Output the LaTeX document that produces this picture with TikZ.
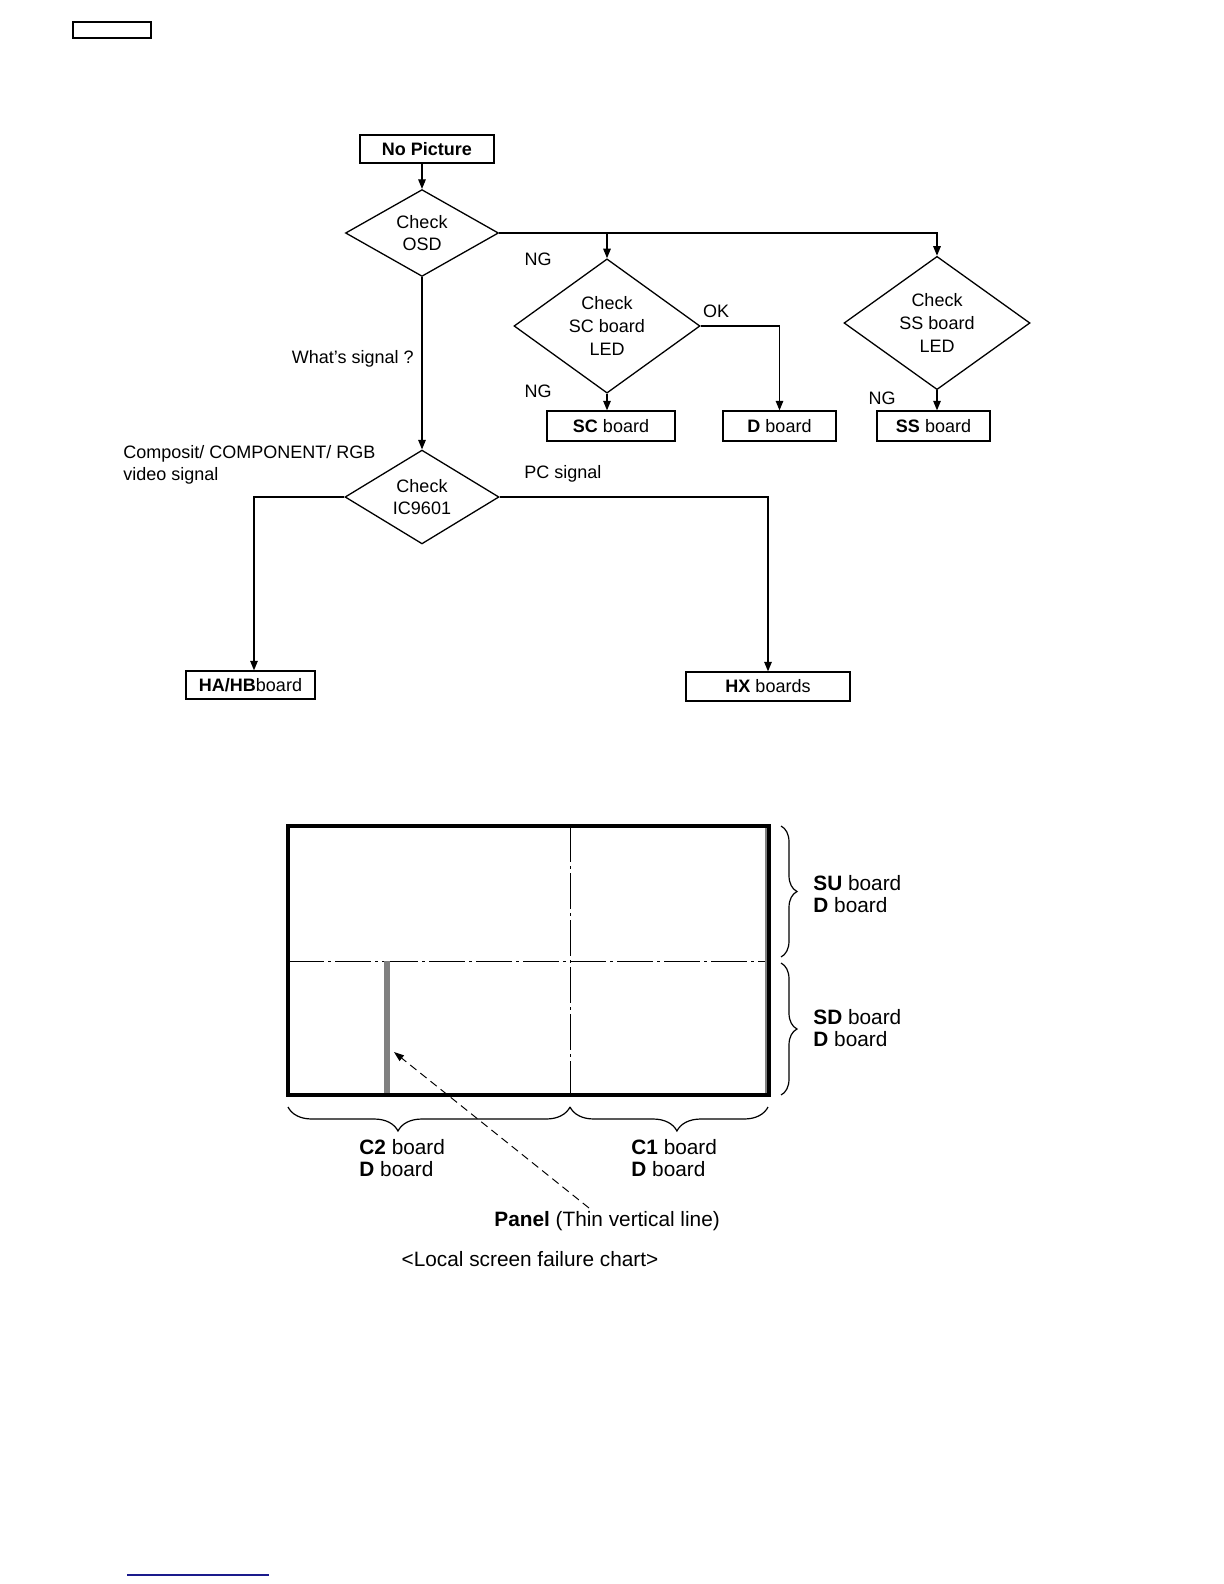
\documentclass[tikz,border=0pt]{standalone}
\usepackage{fontspec}
\setmainfont{Liberation Sans}
\usetikzlibrary{shapes.geometric, arrows.meta, positioning, calc, decorations.pathreplacing}
\definecolor{PanelGray}{HTML}{808080}
\definecolor{FootNavy}{HTML}{1A1A8C}

\begin{document}
\begin{tikzpicture}[x=0.5pt, y=-0.5pt,
        every node/.style={font=\fontsize{9}{11.3}\selectfont},
        box/.style={rectangle, draw, line width=0.65pt, inner sep=0pt, minimum height=14pt},
        check/.style={diamond, draw, line width=0.65pt, inner sep=0pt, align=center},
        arr/.style={-{Triangle[length=4.8pt, width=3.8pt]}, line width=0.6pt},
        lbl/.style={inner sep=0pt},
        big/.style={font=\fontsize{10.4}{11.4}\selectfont, inner sep=0pt, align=left},
        dashdot/.style={line width=0.5pt, dash pattern=on 18pt off 2pt on 1.5pt off 2pt},
        brc/.style={decorate, decoration={brace, amplitude=8pt}, line width=0.6pt}
    ]
    \useasboundingbox (0,0) rectangle (1224,1584);

    % page tag and footer rule
    \node[box, minimum width=39pt, minimum height=8pt, line width=0.8pt] (tag) at (112,30) {};
    \draw[FootNavy, line width=0.7pt] (127,1575) -- (269,1575);

    % flow chart
    \node[box, minimum width=67pt] (nopic) at (427,149) {\textbf{No Picture}};
    \node[check, minimum width=76.5pt, minimum height=41pt] (osd) at (422,233) {Check\\OSD};
    \node[check, minimum width=93pt, minimum height=65.5pt] (scled) at (607,326) {Check\\SC board\\LED};
    \node[check, minimum width=93pt, minimum height=65.5pt] (ssled) at (937,323) {Check\\SS board\\LED};
    \node[box, minimum width=64pt, minimum height=15pt] (scbd) at (611,426) {\textbf{SC} board};
    \node[box, minimum width=56.5pt, minimum height=15pt] (dbd) at (779.5,426) {\textbf{D} board};
    \node[box, minimum width=56.5pt, minimum height=15pt] (ssbd) at (933.5,426) {\textbf{SS} board};
    \node[check, minimum width=77pt, minimum height=42pt] (ic) at (422,497) {Check\\IC9601};
    \node[box, minimum width=64.5pt] (hahb) at (250.5,685) {\textbf{HA/HB}board};
    \node[box, minimum width=82pt, minimum height=14.5pt] (hx) at (768,686.5) {\textbf{HX} boards};

    \node[lbl] (ng1) at (538,259) {NG};
    \node[lbl] (ok) at (716,311) {OK};
    \node[lbl] (ng2) at (538,391) {NG};
    \node[lbl] (ng3) at (882,398) {NG};
    \node[lbl, anchor=east] (what) at (414,359) {What's signal ?};
    \node[lbl, anchor=west, align=left] (vid) at (123,465) {Composit/ COMPONENT/ RGB\\video signal};
    \node[lbl] (pc) at (563,474) {PC signal};

    \draw[arr] (nopic.south -| osd.north) -- (osd.north);
    \draw[arr] (osd.east) -| (ssled.north);
    \draw[arr] (osd.east -| scled.north) -- (scled.north);
    \draw[arr] (scled.south) -- (scled.south |- scbd.north);
    \draw[arr] (scled.east) -| (dbd.north);
    \draw[arr] (ssled.south) -- (ssled.south |- ssbd.north);
    \draw[arr] (osd.south) -- (ic.north);
    \draw[arr] (ic.west) -| ([xshift=1.75pt]hahb.north);
    \draw[arr] (ic.east) -| (hx.north);

    % local screen failure chart
    \draw[dashdot] (288,961) -- (769,961);
    \draw[dashdot] (570,826) -- (570,1095);
    \draw[PanelGray, line width=3pt] (387,961) -- (387,1095);
    \draw[PanelGray, line width=0.8pt] (766,826) -- (766,1095);
    \draw[line width=2pt] (288,826) rectangle (769,1095);

    \draw[brc] (781,826) -- (781,957);
    \draw[brc] (781,963) -- (781,1095);
    \draw[brc, decoration={amplitude=12pt, aspect=0.61}] (570,1107) -- (288,1107);
    \draw[brc, decoration={amplitude=12pt, aspect=0.46}] (768,1107) -- (570,1107);

    \node[big, anchor=west] (su) at (813,894) {\textbf{SU} board\\\textbf{D} board};
    \node[big, anchor=west] (sd) at (813,1028) {\textbf{SD} board\\\textbf{D} board};
    \node[big, anchor=west] (c2) at (359,1158) {\textbf{C2} board\\\textbf{D} board};
    \node[big, anchor=west] (c1) at (631,1158) {\textbf{C1} board\\\textbf{D} board};
    \node[big, anchor=west] (panel) at (494,1221) {\textbf{Panel} (Thin vertical line)};
    \node[big] (title) at (530,1259) {<Local screen failure chart>};

    \coordinate (pnl) at (589,1208);
    \coordinate (hit) at (394,1052);
    \draw[-{Triangle[length=5pt, width=3.5pt]}, line width=0.5pt, dash pattern=on 4pt off 2.5pt] (pnl) -- (hit);
\end{tikzpicture}
\end{document}
